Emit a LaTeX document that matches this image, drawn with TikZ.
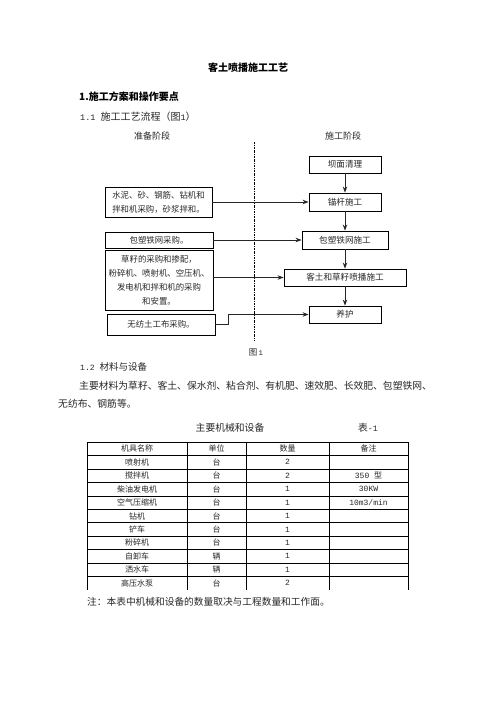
\documentclass[tikz,border=0pt]{standalone}
\usepackage{fontspec}
\setmainfont{Noto Sans CJK SC}
\newfontfamily\monof[Scale=0.85]{Liberation Mono}
\newfontfamily\tabmono{Liberation Mono}
\usetikzlibrary{arrows.meta}
\definecolor{ink}{RGB}{40,40,40}

\begin{document}
\begin{tikzpicture}[x=1pt, y=-1pt,
      body/.style={text=ink, inner sep=0pt, font=\fontsize{9.8}{12}\selectfont},
      prep/.style={draw=black, line width=0.8pt, text=ink, align=center,
                   inner sep=1pt, font=\fontsize{8.4}{14}\selectfont},
      work/.style={draw=black, line width=0.8pt, text=ink, align=center,
                   inner sep=1pt, minimum height=17pt,
                   font=\fontsize{8.6}{12}\selectfont},
      flow/.style={-{Stealth[length=6pt, width=4.5pt]}, line width=1pt, black!85},
      cell/.style={text=ink, inner sep=0pt, font=\fontsize{8}{10}\selectfont},
      rule/.style={line width=0.6pt, black}]
    \useasboundingbox[fill=white] (0,0) rectangle (496,702);
    % ----- headings
    \node[body, font=\bfseries\fontsize{10}{12}\selectfont, text=black] (title) at (248,68) {客土喷播施工工艺};
    \node[body, anchor=west, font=\bfseries\fontsize{10}{12}\selectfont, text=black] (sec1) at (79,97) {1.施工方案和操作要点};
    \node[body, anchor=west, font=\fontsize{10}{12}\selectfont] (sec11) at (80,117) {{\monof 1.1 }施工工艺流程（图{\monof 1}）};
    \node[body, font=\fontsize{9}{11}\selectfont] (phase1) at (152,136) {准备阶段};
    \node[body, font=\fontsize{9}{11}\selectfont] (phase2) at (343,136) {施工阶段};
    \coordinate (divtop) at (254,142);
    \coordinate (divbot) at (254,340);
    \draw[line width=0.6pt, dash pattern=on 2pt off 1pt on 0.6pt off 1pt] (divtop) -- (divbot);
    % ----- preparation (left)
    \node[prep, minimum width=107pt, minimum height=30pt] (w1) at (158.5,202)
      {水泥、砂、钢筋、钻机和\\拌和机采购，砂浆拌和。};
    \node[prep, minimum width=108pt, minimum height=16pt] (w2) at (159,240) {包塑铁网采购。};
    \node[prep, minimum width=108pt, minimum height=60pt] (w3) at (159,280)
      {草籽的采购和掺配，\\粉碎机、喷射机、空压机、\\发电机和拌和机的采购\\和安置。};
    \node[prep, minimum width=108pt, minimum height=21pt] (w4) at (161,324.5) {无纺土工布采购。};
    % ----- construction (right)
    \node[work, minimum width=72pt] (sA) at (345,164.5) {坝面清理};
    \node[work, minimum width=72pt, minimum height=18pt] (sB) at (345,202) {锚杆施工};
    \node[work, minimum width=86pt, minimum height=18pt] (sC) at (345,240) {包塑铁网施工};
    \node[work, minimum width=122pt] (sD) at (345,277.5) {客土和草籽喷播施工};
    \node[work, minimum width=72pt] (sE) at (345,314.5) {养护};
    \draw[flow] (sA) -- (sB);
    \draw[flow] (sB) -- (sC);
    \draw[flow] (sC) -- (sD);
    \draw[flow] (sD) -- (sE);
    \draw[flow] (w1.east) -- (w1.east -| sB.west);
    \draw[flow] (w2.east) -- (w2.east -| sC.west);
    \draw[flow] (w3.east |- sD.west) -- (sD.west);
    \draw[flow] (w4.east) -- ++(13,0) |- (sE.west);
    \node[body, font=\fontsize{8.5}{10}\selectfont] (figno) at (256,352) {图{\monof\,1}};
    % ----- materials
    \node[body, anchor=west, font=\fontsize{9.5}{12}\selectfont] (sec12) at (80,367) {{\monof 1.2 }材料与设备};
    \node[body, anchor=west] (para1) at (79,386)
      {主要材料为草籽、客土、保水剂、粘合剂、有机肥、速效肥、长效肥、包塑铁网、};
    \node[body, anchor=west] (para2) at (58,404) {无纺布、钢筋等。};
    % ----- equipment table
    \node[body] (tcap) at (230,428) {主要机械和设备};
    \node[body] (tno) at (368,428) {表{\monof -1}};
    \foreach \k in {0,...,10}
      \draw[rule] (87,{442+13.45*\k}) -- (408,{442+13.45*\k});
    \foreach \x in {87,187,246,329,408}
      \draw[rule] (\x,442) -- (\x,590);
    \foreach \mach/\unit/\num/\note [count=\i] in {
        机具名称/单位/数量/备注,
        喷射机/台/{\tabmono 2}/{},
        搅拌机/台/{\tabmono 2}/{{\tabmono 350 }型},
        柴油发电机/台/{\tabmono 1}/{\tabmono 30KW},
        空气压缩机/台/{\tabmono 1}/{\tabmono 10m3/min},
        钻机/台/{\tabmono 1}/{},
        铲车/台/{\tabmono 1}/{},
        粉碎机/台/{\tabmono 1}/{},
        自卸车/辆/{\tabmono 1}/{},
        洒水车/辆/{\tabmono 1}/{},
        高压水泵/台/{\tabmono 2}/{}} {
      \node[cell] (m\i) at (137,{442+13.45*(\i-0.5)}) {\mach};
      \node[cell] (u\i) at (216.5,{442+13.45*(\i-0.5)}) {\unit};
      \node[cell] (q\i) at (287.5,{442+13.45*(\i-0.5)}) {\num};
      \node[cell] (r\i) at (368.5,{442+13.45*(\i-0.5)}) {\note};
    }
    \node[body, anchor=west, font=\fontsize{9.7}{12}\selectfont] (tnote) at (87,602)
      {注：本表中机械和设备的数量取决与工程数量和工作面。};
  \end{tikzpicture}
\end{document}
